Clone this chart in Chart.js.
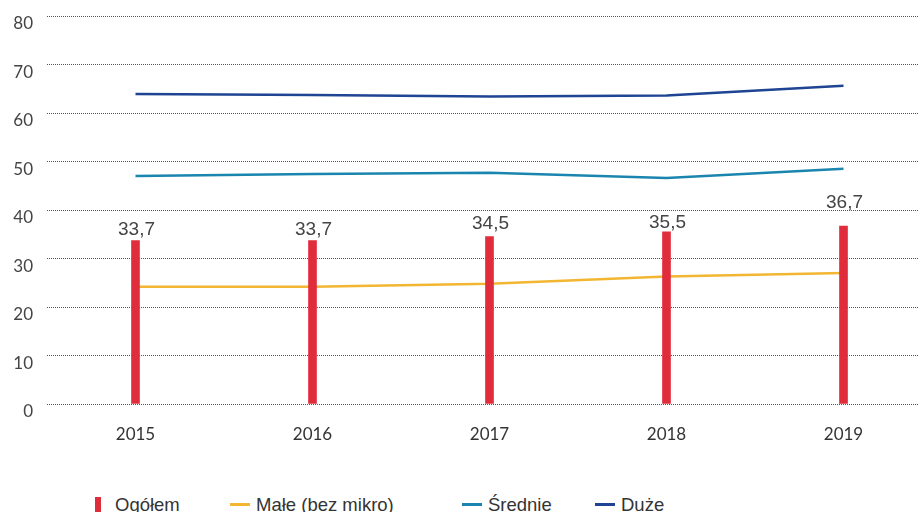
<!DOCTYPE html>
<html>
<head>
<meta charset="utf-8">
<script src="https://cdn.jsdelivr.net/npm/chart.js@4"></script>
<style>
  html, body { margin: 0; padding: 0; background: #fff; width: 918px; height: 512px; overflow: hidden; }
  #wrap { position: relative; width: 918px; height: 512px; overflow: hidden; }
  #chart { position: absolute; left: 0; top: 0; }
  .lg { position: absolute; top: 494px; font: 18.5px 'Liberation Sans', Arial, sans-serif; color: #333; line-height: 22px; white-space: nowrap; }
  .lg i { position: absolute; display: block; }
  .lg span { position: absolute; top: 0; }
</style>
</head>
<body>
<div id="wrap">
  <canvas id="chart" width="932" height="460"></canvas>
  <div id="legend"></div>
</div>
<script>
const years = ['2015', '2016', '2017', '2018', '2019'];
const ogolem = [33.7, 33.7, 34.5, 35.5, 36.7];
const male = [24.2, 24.2, 24.8, 26.3, 27.0];
const srednie = [47.0, 47.4, 47.7, 46.6, 48.5];
const duze = [63.9, 63.7, 63.4, 63.6, 65.6];
const yTicks = [0, 10, 20, 30, 40, 50, 60, 70, 80];

const colors = {
  ogolem: '#e02d3b',
  male: '#f2b632',
  srednie: '#1a86b0',
  duze: '#1e4493',
};

// extra lift of each value label above its bar (px)
const labelLift = [6, 6, 8, 4, 18];

const tickFont = { family: 'Lato, sans-serif', size: 17 };

const barLabels = {
  id: 'barLabels',
  afterDatasetsDraw(chart) {
    const meta = chart.getDatasetMeta(0);
    const ctx = chart.ctx;
    ctx.save();
    ctx.font = '19px "Liberation Sans Narrow", "Arial Narrow", sans-serif';
    ctx.fillStyle = '#444';
    ctx.textAlign = 'center';
    ctx.textBaseline = 'alphabetic';
    meta.data.forEach((bar, i) => {
      ctx.fillText(ogolem[i].toFixed(1).replace('.', ','), bar.x + 1, bar.y - labelLift[i]);
    });
    ctx.restore();
  },
};

const lineSet = (label, data, color, order) => ({
  type: 'line',
  label,
  data,
  borderColor: color,
  backgroundColor: color,
  borderWidth: 2.5,
  pointRadius: 0,
  tension: 0,
  order,
});

new Chart(document.getElementById('chart').getContext('2d'), {
  type: 'bar',
  data: {
    labels: years,
    datasets: [
      {
        type: 'bar',
        label: 'Ogółem',
        data: ogolem,
        backgroundColor: colors.ogolem,
        barThickness: 8,
        order: 1,
      },
      lineSet('Małe (bez mikro)', male, colors.male, 2),
      lineSet('Średnie', srednie, colors.srednie, 3),
      lineSet('Duże', duze, colors.duze, 4),
    ],
  },
  options: {
    responsive: false,
    animation: false,
    devicePixelRatio: 1,
    layout: { padding: { top: 16, left: 0, right: 0, bottom: 0 } },
    plugins: {
      legend: { display: false },
      tooltip: { enabled: false },
    },
    scales: {
      x: {
        grid: { display: false },
        border: { display: false },
        ticks: { padding: 12, font: tickFont, color: '#333' },
        afterFit: (s) => { s.height = 56; s.paddingLeft = 0; s.paddingRight = 0; },
      },
      y: {
        min: 0,
        max: 80,
        afterBuildTicks: (s) => { s.ticks = yTicks.map((v) => ({ value: v })); },
        ticks: { padding: 14, labelOffset: 8, font: tickFont, color: '#444' },
        grid: { color: '#555', lineWidth: 1, drawTicks: false },
        border: { display: false, dash: [1, 1] },
        afterFit: (s) => { s.width = 47; s.paddingTop = 0; s.paddingBottom = 0; },
      },
    },
  },
  plugins: [barLabels],
});

// legend (HTML)
const legendItems = [
  { text: 'Ogółem', color: colors.ogolem, kind: 'box', left: 95 },
  { text: 'Małe (bez mikro)', color: colors.male, kind: 'line', left: 230 },
  { text: 'Średnie', color: colors.srednie, kind: 'line', left: 462 },
  { text: 'Duże', color: colors.duze, kind: 'line', left: 595 },
];
document.getElementById('legend').innerHTML = legendItems
  .map((it) => {
    const mark = it.kind === 'box'
      ? `<i style="left:0;top:3px;width:6px;height:18px;background:${it.color}"></i>`
      : `<i style="left:0;top:9px;width:20px;height:3px;background:${it.color}"></i>`;
    const textLeft = it.kind === 'box' ? 20 : 26;
    return `<div class="lg" style="left:${it.left}px">${mark}<span style="left:${textLeft}px">${it.text}</span></div>`;
  })
  .join('');
</script>
</body>
</html>
